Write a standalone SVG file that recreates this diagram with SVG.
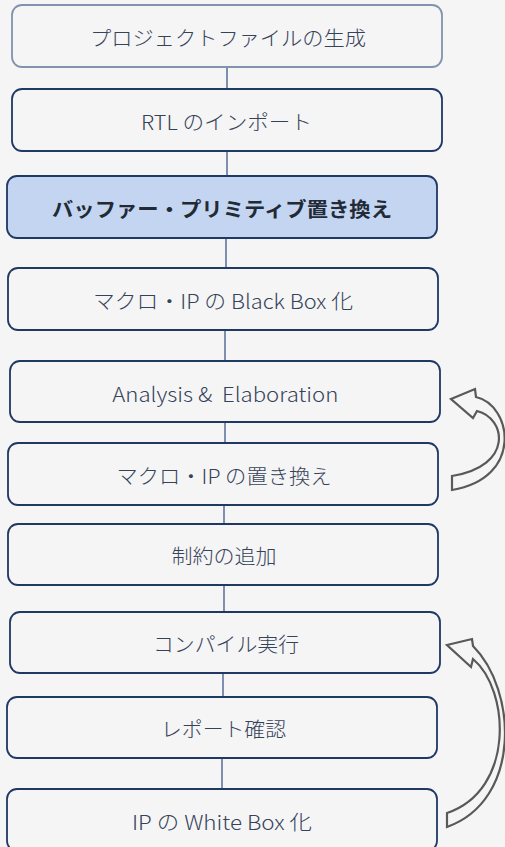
<svg xmlns="http://www.w3.org/2000/svg" width="505" height="847" viewBox="0 0 505 847">
<style>
.bx{fill:#f5f5f5;stroke:#1f3864;stroke-width:1.8}
.bx0{fill:#f5f5f5;stroke:#8193ae;stroke-width:1.8}
.hl{fill:#c4d5f1;stroke:#1f3864;stroke-width:1.8}
.t{font-family:"Noto Sans CJK JP","Noto Sans",sans-serif;font-size:20px;font-weight:300;fill:#35435a;text-anchor:middle;white-space:pre}
.tb{font-weight:bold;fill:#222a35}
.cn line{stroke:#2f4a80;stroke-width:1.2}
.ar{fill:#f5f5f5;stroke:#595959;stroke-width:2.2;stroke-linejoin:miter}
</style>
<rect width="505" height="847" fill="#f5f5f5"/>
<g id="connectors" class="cn">
<line x1="227" y1="67" x2="227" y2="89"/>
<line x1="227" y1="151" x2="227" y2="176"/>
<line x1="226" y1="238" x2="226" y2="268"/>
<line x1="225" y1="330" x2="225" y2="361"/>
<line x1="225" y1="422" x2="225" y2="443"/>
<line x1="224" y1="505" x2="224" y2="524"/>
<line x1="224" y1="585" x2="224" y2="612"/>
<line x1="223" y1="673" x2="223" y2="697"/>
<line x1="222" y1="758" x2="222" y2="789"/>
</g>
<g id="n1"><rect class="bx0" x="12" y="5" width="430" height="62" rx="10"/><text class="t" x="228" y="45.5" textLength="276" lengthAdjust="spacingAndGlyphs">プロジェクトファイルの生成</text></g>
<g id="n2"><rect class="bx" x="12" y="89" width="430" height="62" rx="10"/><text class="t" x="226.5" y="129.5" textLength="171" lengthAdjust="spacingAndGlyphs">RTL のインポート</text></g>
<g id="n3"><rect class="hl" x="7" y="176" width="430" height="62" rx="10"/><text class="t tb" x="222" y="216.5" textLength="340" lengthAdjust="spacingAndGlyphs">バッファー・プリミティブ置き換え</text></g>
<g id="n4"><rect class="bx" x="8" y="268" width="430" height="62" rx="10"/><text class="t" x="223" y="308.5" textLength="260" lengthAdjust="spacingAndGlyphs">マクロ・IP の Black Box 化</text></g>
<g id="n5"><rect class="bx" x="10" y="361" width="430" height="61" rx="10"/><text class="t" x="225.3" y="401.5" textLength="226" lengthAdjust="spacingAndGlyphs">Analysis &amp;  Elaboration</text></g>
<g id="n6"><rect class="bx" x="8" y="443" width="430" height="62" rx="10"/><text class="t" x="224" y="483.5" textLength="215" lengthAdjust="spacingAndGlyphs">マクロ・IP の置き換え</text></g>
<g id="n7"><rect class="bx" x="8" y="524" width="430" height="61" rx="10"/><text class="t" x="224" y="564" textLength="105" lengthAdjust="spacingAndGlyphs">制約の追加</text></g>
<g id="n8"><rect class="bx" x="10" y="612" width="430" height="61" rx="10"/><text class="t" x="226" y="652" textLength="146" lengthAdjust="spacingAndGlyphs">コンパイル実行</text></g>
<g id="n9"><rect class="bx" x="7" y="697" width="430" height="61" rx="10"/><text class="t" x="223.5" y="737" textLength="125" lengthAdjust="spacingAndGlyphs">レポート確認</text></g>
<g id="n10"><rect class="bx" x="7" y="789" width="430" height="62" rx="10"/><text class="t" x="222" y="829.5" textLength="180" lengthAdjust="spacingAndGlyphs">IP の White Box 化</text></g>
<g id="loop1"><path class="ar" d="M451,399 L475,389 L476,397 C512,405 524,478 452,490 L452,476 C514,466 506,418 477,411 L473,418 Z"/></g>
<g id="loop2"><path class="ar" d="M447,645 L472,639 L473,646 C517,690 522,800 447,827 L447,813 C515,790 510,690 473,659 L471,667 Z"/></g>
</svg>
